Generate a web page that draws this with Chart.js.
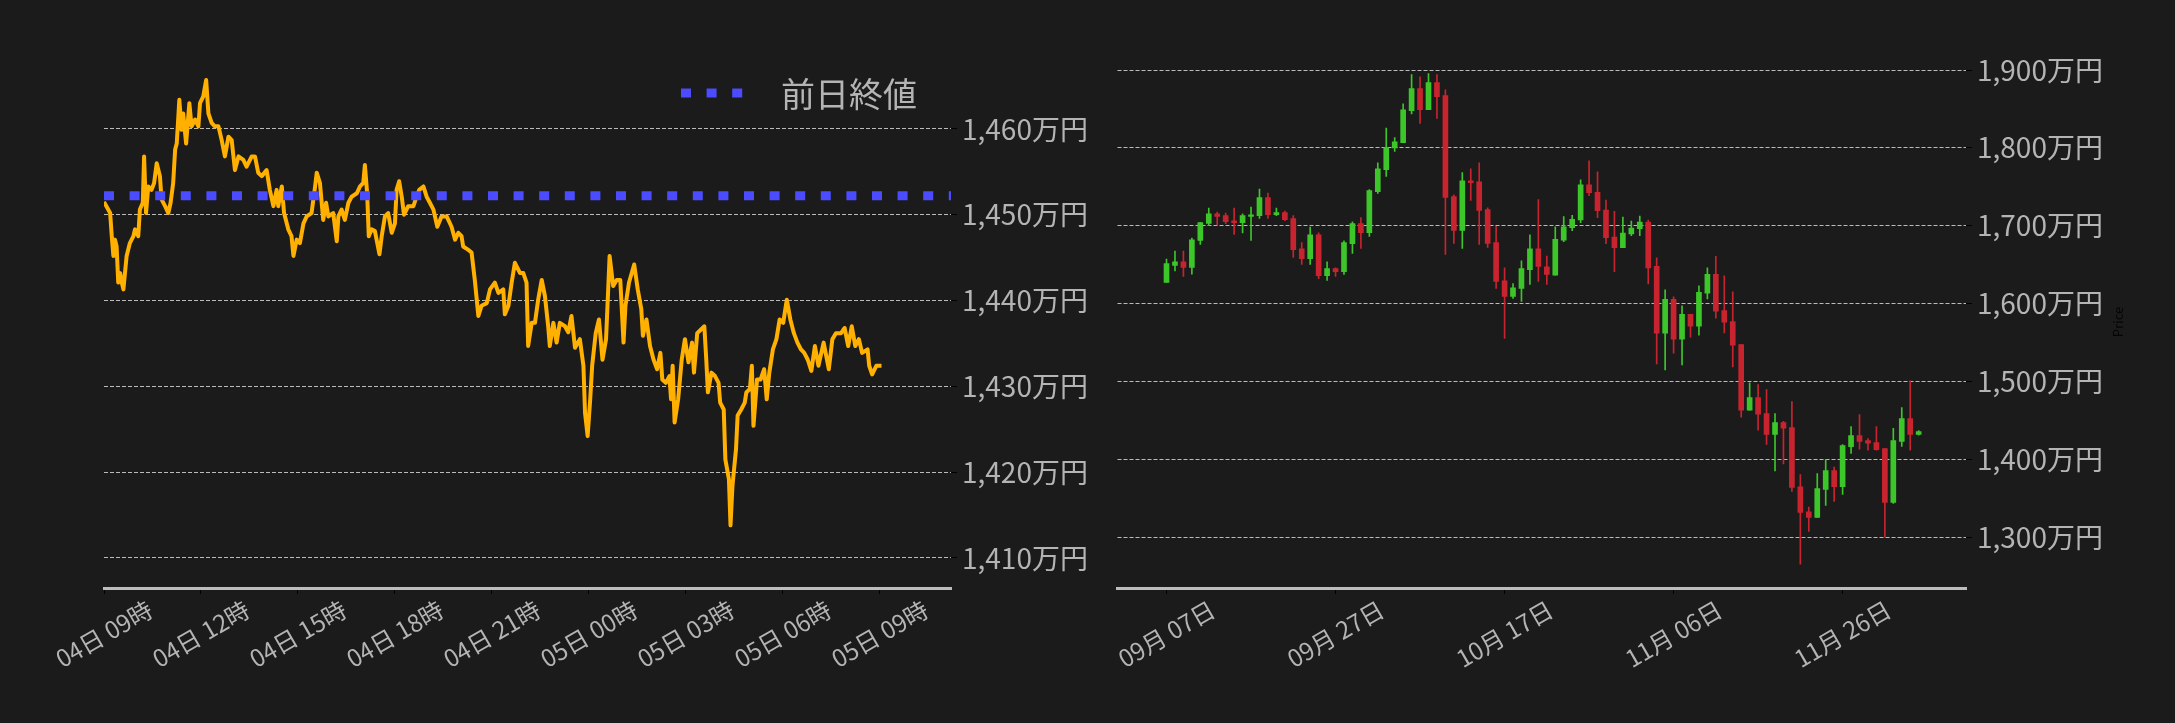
<!DOCTYPE html>
<html>
<head>
<meta charset="utf-8">
<script src="https://cdn.jsdelivr.net/npm/chart.js@4.4.1/dist/chart.umd.min.js"></script>
<style>
  html, body { margin: 0; padding: 0; background: #1b1b1b; }
  #left { position: absolute; left: 0; top: 0; width: 1090px; height: 723px; }
  #right { position: absolute; left: 1090px; top: 0; width: 1085px; height: 723px; }
</style>
</head>
<body>
<div id="left"><canvas id="intraday"></canvas></div>
<div id="right"><canvas id="daily"></canvas></div>
<script>
// --- intraday (hours since 04日 09時) ---
const intradayHours = [0, 0.19, 0.24, 0.29, 0.34, 0.39, 0.44, 0.5, 0.55, 0.6, 0.7, 0.8, 0.91, 0.96, 1.06, 1.11, 1.2, 1.24, 1.3, 1.37, 1.47, 1.55, 1.63, 1.73, 1.78, 1.89, 1.99, 2.06, 2.14, 2.2, 2.25, 2.33, 2.4, 2.45, 2.54, 2.64, 2.71, 2.82, 2.92, 2.97, 3.07, 3.16, 3.23, 3.33, 3.43, 3.54, 3.64, 3.74, 3.85, 3.95, 4.05, 4.16, 4.31, 4.41, 4.57, 4.67, 4.77, 4.88, 5.03, 5.13, 5.24, 5.34, 5.39, 5.5, 5.57, 5.7, 5.8, 5.86, 5.96, 6.06, 6.17, 6.27, 6.42, 6.53, 6.58, 6.68, 6.78, 6.87, 6.94, 7.09, 7.2, 7.25, 7.35, 7.45, 7.56, 7.66, 7.82, 7.92, 8.02, 8.07, 8.14, 8.19, 8.28, 8.38, 8.52, 8.59, 8.69, 8.79, 8.9, 9.0, 9.05, 9.13, 9.21, 9.28, 9.41, 9.57, 9.67, 9.75, 9.88, 9.98, 10.08, 10.19, 10.31, 10.44, 10.6, 10.75, 10.86, 10.96, 11.06, 11.11, 11.27, 11.37, 11.47, 11.58, 11.68, 11.84, 11.94, 12.09, 12.2, 12.35, 12.4, 12.51, 12.61, 12.71, 12.87, 12.97, 13.07, 13.12, 13.23, 13.33, 13.43, 13.54, 13.64, 13.74, 13.79, 13.9, 14.0, 14.1, 14.26, 14.36, 14.46, 14.57, 14.72, 14.83, 14.88, 14.96, 15.04, 15.1, 15.21, 15.31, 15.42, 15.53, 15.64, 15.75, 15.86, 15.97, 16.07, 16.13, 16.24, 16.4, 16.51, 16.62, 16.67, 16.78, 16.89, 17.0, 17.11, 17.21, 17.27, 17.38, 17.49, 17.54, 17.59, 17.65, 17.76, 17.87, 17.97, 18.08, 18.19, 18.25, 18.35, 18.46, 18.57, 18.63, 18.68, 18.79, 18.9, 19.01, 19.06, 19.17, 19.22, 19.33, 19.38, 19.44, 19.55, 19.6, 19.71, 19.82, 19.87, 19.98, 20.04, 20.09, 20.2, 20.31, 20.42, 20.5, 20.58, 20.69, 20.8, 20.9, 21.01, 21.12, 21.23, 21.34, 21.45, 21.56, 21.66, 21.77, 21.88, 21.99, 22.1, 22.26, 22.42, 22.53, 22.64, 22.8, 22.91, 23.02, 23.13, 23.24, 23.35, 23.45, 23.62, 23.67, 23.76, 23.89, 24.05];
const intradayPrices = [1451.5, 1450.2, 1447.5, 1445.2, 1447.1, 1446.3, 1442.1, 1443.2, 1442.1, 1441.3, 1445.2, 1446.7, 1447.5, 1448.3, 1447.5, 1450.6, 1451.4, 1456.8, 1450.2, 1453.3, 1452.9, 1453.7, 1456.0, 1454.5, 1451.8, 1451.0, 1450.2, 1451.4, 1453.7, 1457.6, 1458.3, 1463.4, 1459.9, 1461.8, 1458.3, 1463.0, 1460.3, 1461.1, 1460.3, 1463.0, 1463.8, 1465.7, 1461.8, 1460.7, 1460.3, 1460.3, 1458.7, 1456.8, 1459.1, 1458.7, 1455.2, 1456.8, 1456.4, 1455.6, 1456.8, 1456.8, 1454.9, 1454.5, 1455.2, 1452.9, 1451.0, 1452.9, 1451.0, 1453.3, 1450.2, 1448.3, 1447.5, 1445.2, 1447.1, 1446.7, 1449.0, 1449.8, 1450.2, 1453.3, 1454.9, 1453.7, 1449.4, 1451.4, 1449.8, 1450.2, 1446.9, 1449.8, 1450.6, 1449.4, 1451.4, 1452.1, 1452.5, 1453.3, 1453.7, 1455.8, 1452.5, 1447.5, 1448.3, 1448.1, 1445.4, 1447.5, 1449.8, 1450.2, 1447.9, 1449.0, 1452.9, 1453.9, 1452.1, 1450.0, 1451.0, 1451.0, 1452.1, 1452.9, 1453.3, 1452.1, 1451.4, 1450.6, 1448.6, 1449.8, 1449.8, 1448.6, 1447.1, 1447.9, 1447.5, 1446.3, 1445.9, 1445.6, 1442.4, 1438.2, 1439.4, 1439.7, 1441.3, 1442.1, 1440.9, 1441.3, 1438.4, 1439.4, 1442.1, 1444.4, 1443.2, 1443.2, 1442.1, 1434.7, 1437.4, 1437.4, 1440.1, 1442.4, 1440.5, 1437.0, 1434.7, 1437.4, 1435.1, 1437.4, 1437.0, 1436.3, 1438.2, 1434.5, 1435.5, 1432.4, 1426.9, 1424.2, 1428.5, 1432.4, 1436.2, 1437.8, 1433.1, 1435.5, 1445.2, 1441.7, 1442.4, 1442.4, 1435.1, 1439.4, 1442.1, 1444.2, 1441.3, 1439.0, 1435.9, 1437.8, 1434.7, 1433.1, 1432.0, 1433.9, 1430.8, 1430.4, 1431.2, 1428.5, 1432.4, 1425.8, 1428.5, 1433.1, 1435.5, 1432.8, 1435.1, 1431.6, 1436.2, 1436.6, 1437.0, 1433.1, 1429.3, 1431.6, 1431.2, 1430.4, 1428.1, 1427.3, 1421.5, 1419.2, 1413.8, 1418.4, 1422.7, 1426.6, 1427.3, 1428.1, 1429.3, 1429.7, 1432.4, 1425.4, 1430.8, 1430.8, 1432.0, 1428.5, 1431.6, 1434.3, 1435.5, 1437.8, 1437.4, 1440.1, 1437.8, 1436.2, 1435.1, 1434.3, 1433.9, 1433.1, 1431.8, 1434.7, 1432.4, 1435.1, 1432.0, 1435.5, 1436.2, 1436.2, 1436.8, 1434.7, 1437.0, 1434.7, 1435.5, 1433.9, 1434.3, 1432.4, 1431.4, 1432.4, 1432.4];
const prevClose = 1452.2;
const intradayXTicks = [0, 3, 6, 9, 12, 15, 18, 21, 24];
const intradayXLabels = ['04日 09時', '04日 12時', '04日 15時', '04日 18時', '04日 21時', '05日 00時', '05日 03時', '05日 06時', '05日 09時'];
const intradayYTicks = [1410, 1420, 1430, 1440, 1450, 1460];

// --- daily candles (day 0 = 09月 07日) ---
const dailyOpen  = [1627.2, 1649.0, 1653.7, 1646.5, 1681.2, 1703.0, 1715.4, 1712.9, 1706.4, 1703.9, 1712.0, 1712.9, 1736.0, 1714.1, 1716.7, 1709.0, 1670.4, 1657.6, 1688.4, 1635.8, 1644.8, 1640.9, 1676.9, 1702.6, 1691.0, 1743.7, 1771.9, 1799.8, 1806.6, 1847.8, 1876.0, 1849.0, 1883.7, 1867.0, 1737.3, 1694.0, 1757.8, 1756.5, 1720.6, 1678.2, 1629.3, 1609.2, 1619.5, 1643.5, 1670.4, 1647.3, 1636.5, 1681.5, 1697.4, 1707.3, 1752.4, 1742.9, 1720.2, 1685.4, 1671.7, 1689.3, 1696.1, 1704.7, 1647.7, 1561.9, 1605.3, 1554.2, 1586.0, 1570.9, 1613.4, 1637.4, 1591.1, 1577.0, 1547.4, 1462.9, 1479.2, 1458.6, 1432.0, 1447.0, 1440.6, 1364.7, 1332.6, 1325.3, 1361.3, 1385.3, 1364.7, 1416.2, 1430.3, 1423.9, 1421.3, 1413.6, 1344.6, 1423.0, 1452.2, 1432.0];
const dailyHigh  = [1657.2, 1667.5, 1667.5, 1684.2, 1703.9, 1722.7, 1717.6, 1716.3, 1722.7, 1715.4, 1724.0, 1747.1, 1742.0, 1722.7, 1718.8, 1712.9, 1678.2, 1698.3, 1691.0, 1653.7, 1646.0, 1680.7, 1705.1, 1710.3, 1746.3, 1780.9, 1825.5, 1813.1, 1856.7, 1894.0, 1891.4, 1895.3, 1894.0, 1874.7, 1739.8, 1768.1, 1773.2, 1780.9, 1723.1, 1699.1, 1646.0, 1625.5, 1655.0, 1688.4, 1733.4, 1661.0, 1698.7, 1711.6, 1713.3, 1758.8, 1783.3, 1769.1, 1733.0, 1718.5, 1711.2, 1706.0, 1712.4, 1707.3, 1658.8, 1617.7, 1608.7, 1597.1, 1586.0, 1622.8, 1646.0, 1660.6, 1635.7, 1615.1, 1547.4, 1498.1, 1495.9, 1489.5, 1458.6, 1448.8, 1474.1, 1380.2, 1338.6, 1381.5, 1399.5, 1390.0, 1418.8, 1441.9, 1457.3, 1426.5, 1441.9, 1413.6, 1439.8, 1466.3, 1500.6, 1436.8];
const dailyLow   = [1627.2, 1641.8, 1634.9, 1637.9, 1676.0, 1700.0, 1700.9, 1702.6, 1688.9, 1690.6, 1681.2, 1709.4, 1709.4, 1712.9, 1706.4, 1659.3, 1650.3, 1650.3, 1631.9, 1629.8, 1634.9, 1637.5, 1664.4, 1670.9, 1686.3, 1741.5, 1763.4, 1795.5, 1806.6, 1843.5, 1831.5, 1849.0, 1837.9, 1663.2, 1677.3, 1670.9, 1732.5, 1676.0, 1672.2, 1619.5, 1555.2, 1606.6, 1602.8, 1624.6, 1628.5, 1624.6, 1636.5, 1679.4, 1693.6, 1703.9, 1738.6, 1710.3, 1676.8, 1640.8, 1671.7, 1687.1, 1687.1, 1625.3, 1522.5, 1514.8, 1536.2, 1521.2, 1556.8, 1559.4, 1606.1, 1581.2, 1562.4, 1518.6, 1453.9, 1462.9, 1437.2, 1419.2, 1384.9, 1393.9, 1358.7, 1265.3, 1307.3, 1325.3, 1340.7, 1345.9, 1354.9, 1407.6, 1412.8, 1411.5, 1411.5, 1300.0, 1343.3, 1416.6, 1411.5, 1430.8];
const dailyClose = [1651.2, 1653.7, 1646.5, 1682.0, 1703.9, 1715.4, 1712.0, 1705.1, 1703.9, 1712.9, 1714.1, 1736.0, 1714.1, 1716.7, 1707.7, 1669.2, 1657.6, 1688.4, 1635.8, 1644.8, 1640.9, 1678.2, 1702.6, 1691.0, 1745.0, 1773.2, 1800.2, 1807.9, 1849.0, 1876.0, 1849.0, 1883.7, 1865.7, 1736.4, 1694.0, 1757.8, 1755.2, 1719.7, 1677.3, 1628.5, 1609.2, 1620.3, 1644.8, 1670.4, 1647.8, 1637.5, 1682.4, 1698.7, 1708.2, 1752.4, 1742.5, 1719.3, 1684.5, 1671.7, 1690.6, 1697.0, 1704.7, 1645.9, 1561.9, 1605.3, 1554.2, 1586.0, 1570.9, 1614.3, 1637.4, 1590.2, 1576.1, 1546.5, 1462.9, 1479.2, 1457.8, 1432.0, 1447.0, 1439.8, 1363.9, 1331.7, 1325.3, 1362.2, 1385.3, 1364.7, 1417.5, 1430.3, 1423.0, 1420.5, 1412.3, 1344.6, 1423.9, 1452.2, 1432.0, 1435.5];
const dailyXTicks = [0, 20, 40, 60, 80];
const dailyXLabels = ['09月 07日', '09月 27日', '10月 17日', '11月 06日', '11月 26日'];
const dailyYTicks = [1300, 1400, 1500, 1600, 1700, 1800, 1900];

const FONT = "'Noto Sans CJK JP', 'Noto Sans', sans-serif";
const TEXT = '#b4b4b4';
const GRID = 'rgba(215,215,215,0.85)';
const UP = '#3cc62a';
const DOWN = '#c8242f';

function yen(v) {
    return v.toLocaleString('en-US') + '万円';
}

function xLabels(ticks, labels) {
    return {
        id: 'xLabels',
        afterDraw(chart) {
            const ctx = chart.ctx;
            const xs = chart.scales.x;
            ctx.save();
            ctx.font = '24px ' + FONT;
            ctx.fillStyle = TEXT;
            ctx.textAlign = 'center';
            ctx.textBaseline = 'middle';
            ticks.forEach((v, i) => {
                ctx.save();
                ctx.translate(xs.getPixelForValue(v), chart.chartArea.bottom + 46);
                ctx.rotate(-Math.PI / 6);
                ctx.fillText(labels[i], 0, 0);
                ctx.restore();
            });
            ctx.restore();
        }
    };
}

function xScale(min, max, ticks, height) {
    return {
        type: 'linear',
        min: min,
        max: max,
        offset: false,
        afterBuildTicks: s => { s.ticks = ticks.map(v => ({value: v})); },
        afterFit: s => { s.height = height; },
        ticks: {display: false},
        grid: {display: true, offset: false, drawOnChartArea: false, tickLength: 6, tickColor: '#000', tickWidth: 1},
        border: {display: true, color: '#bdbdbd', width: 3}
    };
}

function yScale(min, max, ticks, width) {
    return {
        type: 'linear',
        position: 'right',
        min: min,
        max: max,
        afterBuildTicks: s => { s.ticks = ticks.map(v => ({value: v})); },
        afterFit: s => { s.width = width; },
        ticks: {color: TEXT, font: {family: FONT, size: 28}, padding: 5, callback: v => yen(v)},
        grid: {color: GRID, lineWidth: 1, tickLength: 6, tickColor: '#000'},
        border: {display: false, dash: [4, 2]}
    };
}

// legend for the previous-close line, drawn inside the plot
const closeLegend = {
    id: 'closeLegend',
    afterDraw(chart) {
        const ctx = chart.ctx;
        const ds = chart.data.datasets[0];
        ctx.save();
        ctx.strokeStyle = ds.borderColor;
        ctx.lineWidth = ds.borderWidth;
        ctx.setLineDash(ds.borderDash);
        ctx.beginPath();
        ctx.moveTo(681, 93);
        ctx.lineTo(743, 93);
        ctx.stroke();
        ctx.setLineDash([]);
        ctx.font = '34px ' + FONT;
        ctx.fillStyle = TEXT;
        ctx.textBaseline = 'middle';
        ctx.fillText(ds.label, 781, 94);
        ctx.restore();
    }
};

const priceTitle = {
    id: 'priceTitle',
    afterDraw(chart) {
        const ctx = chart.ctx;
        ctx.save();
        ctx.font = '13px ' + FONT;
        ctx.fillStyle = '#050505';
        ctx.textAlign = 'center';
        ctx.textBaseline = 'middle';
        ctx.translate(1028, (chart.chartArea.top + chart.chartArea.bottom) / 2);
        ctx.rotate(-Math.PI / 2);
        ctx.fillText('Price', 0, 0);
        ctx.restore();
    }
};

new Chart(document.getElementById('intraday'), {
    type: 'line',
    data: {
        datasets: [{
            label: '前日終値',
            data: [{x: 0, y: prevClose}, {x: 26.2, y: prevClose}],
            borderColor: '#4b4bff',
            borderWidth: 9,
            borderDash: [10, 15.6],
            borderCapStyle: 'butt',
            pointRadius: 0,
            order: 0
        }, {
            label: 'price',
            data: intradayHours.map((h, i) => ({x: h, y: intradayPrices[i]})),
            borderColor: '#ffb000',
            borderWidth: 4,
            borderJoinStyle: 'round',
            pointRadius: 0,
            tension: 0,
            order: 1
        }]
    },
    options: {
        responsive: true,
        maintainAspectRatio: false,
        animation: false,
        events: [],
        layout: {padding: {left: 104, top: 56, right: 0, bottom: 0}},
        scales: {
            x: xScale(0, 26.2, intradayXTicks, 135),
            y: yScale(1406.5, 1468.5, intradayYTicks, 139)
        },
        plugins: {legend: {display: false}, tooltip: {enabled: false}}
    },
    plugins: [xLabels(intradayXTicks, intradayXLabels), closeLegend]
});

const candleColors = dailyOpen.map((o, i) => dailyClose[i] >= o ? UP : DOWN);

new Chart(document.getElementById('daily'), {
    type: 'bar',
    data: {
        datasets: [{
            label: 'body',
            data: dailyOpen.map((o, i) => ({x: i, y: [o, dailyClose[i]]})),
            backgroundColor: candleColors,
            barThickness: 5,
            grouped: false,
            order: 0
        }, {
            label: 'wick',
            data: dailyLow.map((l, i) => ({x: i, y: [l, dailyHigh[i]]})),
            backgroundColor: candleColors,
            barThickness: 1,
            grouped: false,
            order: 1
        }]
    },
    options: {
        responsive: true,
        maintainAspectRatio: false,
        animation: false,
        events: [],
        layout: {padding: {left: 27.5, top: 56, right: 0, bottom: 0}},
        scales: {
            x: xScale(-5.8, 94.6, dailyXTicks, 135),
            y: yScale(1234.6, 1918, dailyYTicks, 209)
        },
        plugins: {legend: {display: false}, tooltip: {enabled: false}}
    },
    plugins: [xLabels(dailyXTicks, dailyXLabels), priceTitle]
});
</script>
</body>
</html>
